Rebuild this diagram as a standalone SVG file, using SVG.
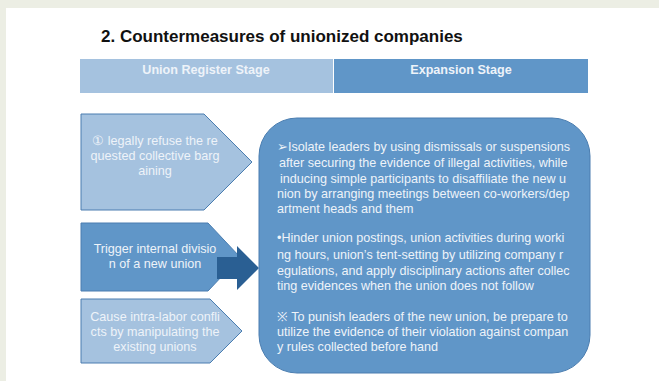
<svg xmlns="http://www.w3.org/2000/svg" width="659" height="381" viewBox="0 0 659 381">
<style>
text{font-family:"Liberation Sans",Arial,sans-serif;}
.title{font-size:17px;font-weight:bold;fill:#111;}
.hdr{font-size:12.6px;font-weight:bold;fill:#eef3f9;text-anchor:middle;}
.lt{font-size:12.6px;fill:#eef3f9;text-anchor:middle;}
.bt{font-size:12.6px;fill:#eef3f9;}
.light{fill:#a5c2df;stroke:#4a7db0;stroke-width:1;}
.dark{fill:#6096c8;stroke:#4a7db0;stroke-width:1;}
</style>
<rect x="0" y="0" width="659" height="381" fill="#ffffff"/>
<rect x="0" y="0" width="659" height="8" fill="#eceee4"/>
<rect x="0" y="0" width="6" height="381" fill="#eceee4"/>
<text class="title" x="101" y="42">2. Countermeasures of unionized companies</text>
<g id="header">
<rect x="80" y="59" width="253" height="34" fill="#a5c2df"/>
<rect x="334" y="59" width="254" height="34" fill="#6096c8"/>
<text class="hdr" x="206" y="74">Union Register Stage</text>
<text class="hdr" x="461" y="74">Expansion Stage</text>
</g>
<g id="step1">
<path class="light" d="M81,114 H204 L252,162 L204,210 H81 Z"/>
<text class="lt" x="155" y="145">① legally refuse the re</text>
<text class="lt" x="155" y="160">quested collective barg</text>
<text class="lt" x="155" y="175">aining</text>
</g>
<g id="step2">
<path class="dark" d="M81,223 H208 L240,257 L208,291 H81 Z"/>
<text class="lt" x="155" y="253">Trigger internal divisio</text>
<text class="lt" x="155" y="268">n of a new union</text>
</g>
<g id="step3">
<path class="light" d="M81,299 H210 L242,331 L210,363 H81 Z"/>
<text class="lt" x="155" y="321">Cause intra-labor confli</text>
<text class="lt" x="155" y="336">cts by manipulating the</text>
<text class="lt" x="155" y="351">existing unions</text>
</g>
<g id="connectors">
<path d="M217,257 H237 V246 L259,268 L237,290 V279 H217 Z" fill="#2a5f93"/>
</g>
<g id="main">
<rect class="dark" x="259" y="118" width="331" height="255" rx="38" ry="38"/>
<text class="bt" x="277" y="151">➢Isolate leaders by using dismissals or suspensions</text>
<text class="bt" x="279" y="167">after securing the evidence of illegal activities, while</text>
<text class="bt" x="280" y="183">inducing simple participants to disaffiliate the new u</text>
<text class="bt" x="277" y="198">nion by arranging meetings between co-workers/dep</text>
<text class="bt" x="277" y="213">artment heads and them</text>
<text class="bt" x="277" y="242">•Hinder union postings, union activities during worki</text>
<text class="bt" x="277" y="259">ng hours, union’s tent-setting by utilizing company r</text>
<text class="bt" x="277" y="275">egulations, and apply disciplinary actions after collec</text>
<text class="bt" x="277" y="290">ting evidences when the union does not follow</text>
<text class="bt" x="277" y="321">※ To punish leaders of the new union, be prepare to</text>
<text class="bt" x="277" y="336">utilize the evidence of their violation against compan</text>
<text class="bt" x="277" y="351">y rules collected before hand</text>
</g>
</svg>
